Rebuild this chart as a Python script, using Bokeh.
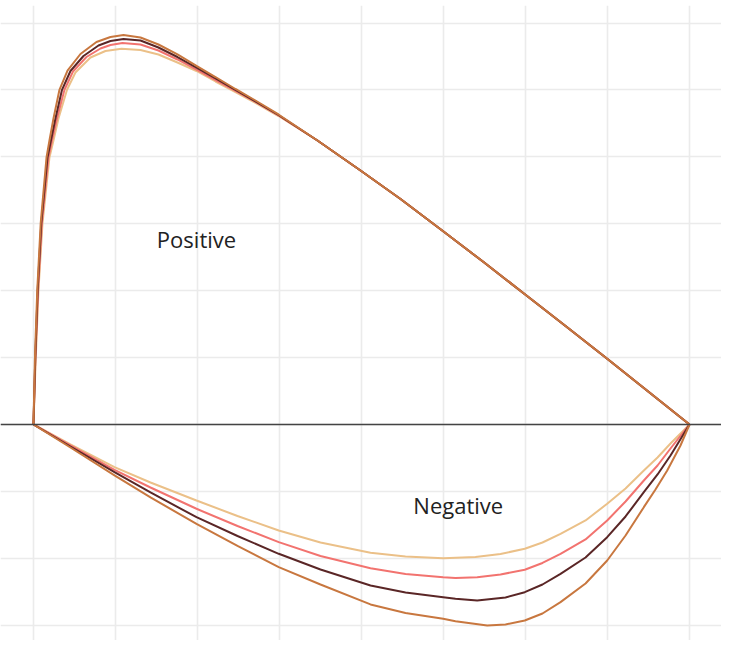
from bokeh.plotting import figure
from bokeh.models import Range1d, FixedTicker, Span, Label
from bokeh.embed import file_html
from bokeh.resources import INLINE

# ---- data ----
x_ticks = [0, 1, 2, 3, 4, 5, 6, 7, 8]
y_ticks = [-3, -2, -1, 0, 1, 2, 3, 4, 5, 6]

tail_x = [3.463, 3.988, 4.476, 5.0, 5.488, 5.988, 6.488, 7.0, 7.5, 8.0]
tail_y = [4.245, 3.797, 3.371, 2.885, 2.428, 1.951, 1.472, 0.979, 0.489, 0.0]

light_pos_x = [0, 0.028, 0.061, 0.110, 0.195, 0.244, 0.305, 0.409, 0.512, 0.695, 0.878, 1.073, 1.305, 1.524, 1.756, 1.988, 2.220, 2.463, 2.707, 2.988]
light_pos_y = [0, 1.0, 2.003, 3.005, 3.991, 4.245, 4.574, 5.003, 5.262, 5.486, 5.583, 5.616, 5.598, 5.531, 5.411, 5.284, 5.127, 4.970, 4.806, 4.611]

pink_pos_x = [0, 0.024, 0.056, 0.102, 0.183, 0.226, 0.287, 0.378, 0.482, 0.646, 0.817, 0.939, 1.085, 1.305, 1.524, 1.756, 1.988, 2.220, 2.463, 2.707, 2.988]
pink_pos_y = [0, 1.0, 2.003, 3.005, 3.991, 4.245, 4.574, 5.003, 5.277, 5.493, 5.620, 5.673, 5.703, 5.680, 5.590, 5.456, 5.306, 5.149, 4.985, 4.821, 4.619]

dark_pos_x = [0, 0.022, 0.051, 0.095, 0.171, 0.213, 0.268, 0.348, 0.451, 0.610, 0.793, 0.939, 1.098, 1.305, 1.524, 1.756, 1.988, 2.220, 2.463, 2.707, 2.988]
dark_pos_y = [0, 1.0, 2.003, 3.005, 3.991, 4.245, 4.574, 5.003, 5.284, 5.508, 5.665, 5.732, 5.762, 5.740, 5.635, 5.493, 5.336, 5.172, 5.0, 4.831, 4.626]

brown_pos_x = [0, 0.018, 0.046, 0.088, 0.159, 0.195, 0.244, 0.317, 0.415, 0.573, 0.768, 0.939, 1.098, 1.305, 1.524, 1.756, 1.988, 2.220, 2.463, 2.707, 2.988]
brown_pos_y = [0, 1.0, 2.003, 3.005, 3.991, 4.245, 4.574, 5.003, 5.291, 5.538, 5.717, 5.792, 5.822, 5.785, 5.680, 5.531, 5.359, 5.194, 5.015, 4.843, 4.634]

light_neg_x = [0, 0.451, 0.988, 1.427, 1.988, 2.488, 2.991, 3.5, 4.110, 4.537, 4.996, 5.390, 5.695, 5.991, 6.207, 6.427, 6.732, 6.996, 7.220, 7.443, 7.610, 7.768, 8.0]
light_neg_y = [0, -0.299, -0.638, -0.867, -1.136, -1.368, -1.584, -1.764, -1.918, -1.973, -1.999, -1.981, -1.936, -1.858, -1.764, -1.634, -1.435, -1.185, -0.957, -0.688, -0.493, -0.284, 0]

pink_neg_x = [0, 0.451, 0.988, 1.427, 1.988, 2.488, 2.991, 3.5, 4.110, 4.537, 4.996, 5.146, 5.411, 5.695, 5.991, 6.207, 6.427, 6.732, 6.996, 7.220, 7.443, 7.610, 7.768, 8.0]
pink_neg_y = [0, -0.314, -0.677, -0.942, -1.260, -1.517, -1.759, -1.966, -2.148, -2.235, -2.283, -2.294, -2.283, -2.242, -2.172, -2.070, -1.933, -1.719, -1.435, -1.151, -0.837, -0.613, -0.359, 0]

dark_neg_x = [0, 0.451, 0.988, 1.427, 1.988, 2.488, 2.991, 3.5, 4.110, 4.537, 4.996, 5.146, 5.411, 5.756, 5.991, 6.207, 6.427, 6.732, 6.996, 7.220, 7.443, 7.610, 7.768, 8.0]
dark_neg_y = [0, -0.329, -0.713, -1.016, -1.386, -1.667, -1.933, -2.167, -2.407, -2.511, -2.581, -2.605, -2.631, -2.586, -2.507, -2.392, -2.232, -1.988, -1.685, -1.375, -1.012, -0.747, -0.463, 0]

brown_neg_x = [0, 0.451, 0.988, 1.427, 1.988, 2.488, 2.991, 3.5, 4.110, 4.537, 4.996, 5.146, 5.533, 5.756, 5.991, 6.207, 6.427, 6.732, 6.996, 7.220, 7.443, 7.585, 7.728, 7.890, 8.0]
brown_neg_y = [0, -0.344, -0.762, -1.091, -1.484, -1.816, -2.133, -2.392, -2.690, -2.818, -2.904, -2.940, -3.004, -2.990, -2.930, -2.825, -2.656, -2.377, -2.033, -1.659, -1.236, -0.972, -0.688, -0.314, 0]

labels = ["Positive", "Negative"]
label_x = [1.988, 5.18]
label_y = [2.78, -1.21]

series = [
    ("#EBC088", light_pos_x, light_pos_y, light_neg_x, light_neg_y),
    ("#F2736F", pink_pos_x, pink_pos_y, pink_neg_x, pink_neg_y),
    ("#5A2626", dark_pos_x, dark_pos_y, dark_neg_x, dark_neg_y),
    ("#C8773F", brown_pos_x, brown_pos_y, brown_neg_x, brown_neg_y),
]

p = figure(width=721, height=640, output_backend="svg", toolbar_location=None,
           x_range=Range1d(-0.402, 8.390), y_range=Range1d(-3.229, 6.263),
           min_border=0, min_border_top=5, outline_line_color=None,
           background_fill_color="white")

for ax in p.xaxis:
    ax.ticker = FixedTicker(ticks=x_ticks)
    ax.visible = False
for ax in p.yaxis:
    ax.ticker = FixedTicker(ticks=y_ticks)
    ax.visible = False
p.xgrid.ticker = FixedTicker(ticks=x_ticks)
p.ygrid.ticker = FixedTicker(ticks=y_ticks)
p.grid.grid_line_color = "#ebebeb"
p.grid.grid_line_width = 1.6

p.add_layout(Span(location=0, dimension="width", line_color="#444444", line_width=1.5))

for color, px, py, nx, ny in series:
    p.line(px + tail_x, py + tail_y, line_color=color, line_width=2)
    p.line(nx, ny, line_color=color, line_width=2)

for t, lx, ly in zip(labels, label_x, label_y):
    p.add_layout(Label(x=lx, y=ly, text=t, text_align="center", text_baseline="middle",
                       text_font="Open Sans", text_font_size="22px", text_color="#222222"))

open("out.html", "w").write(file_html(p, INLINE))
